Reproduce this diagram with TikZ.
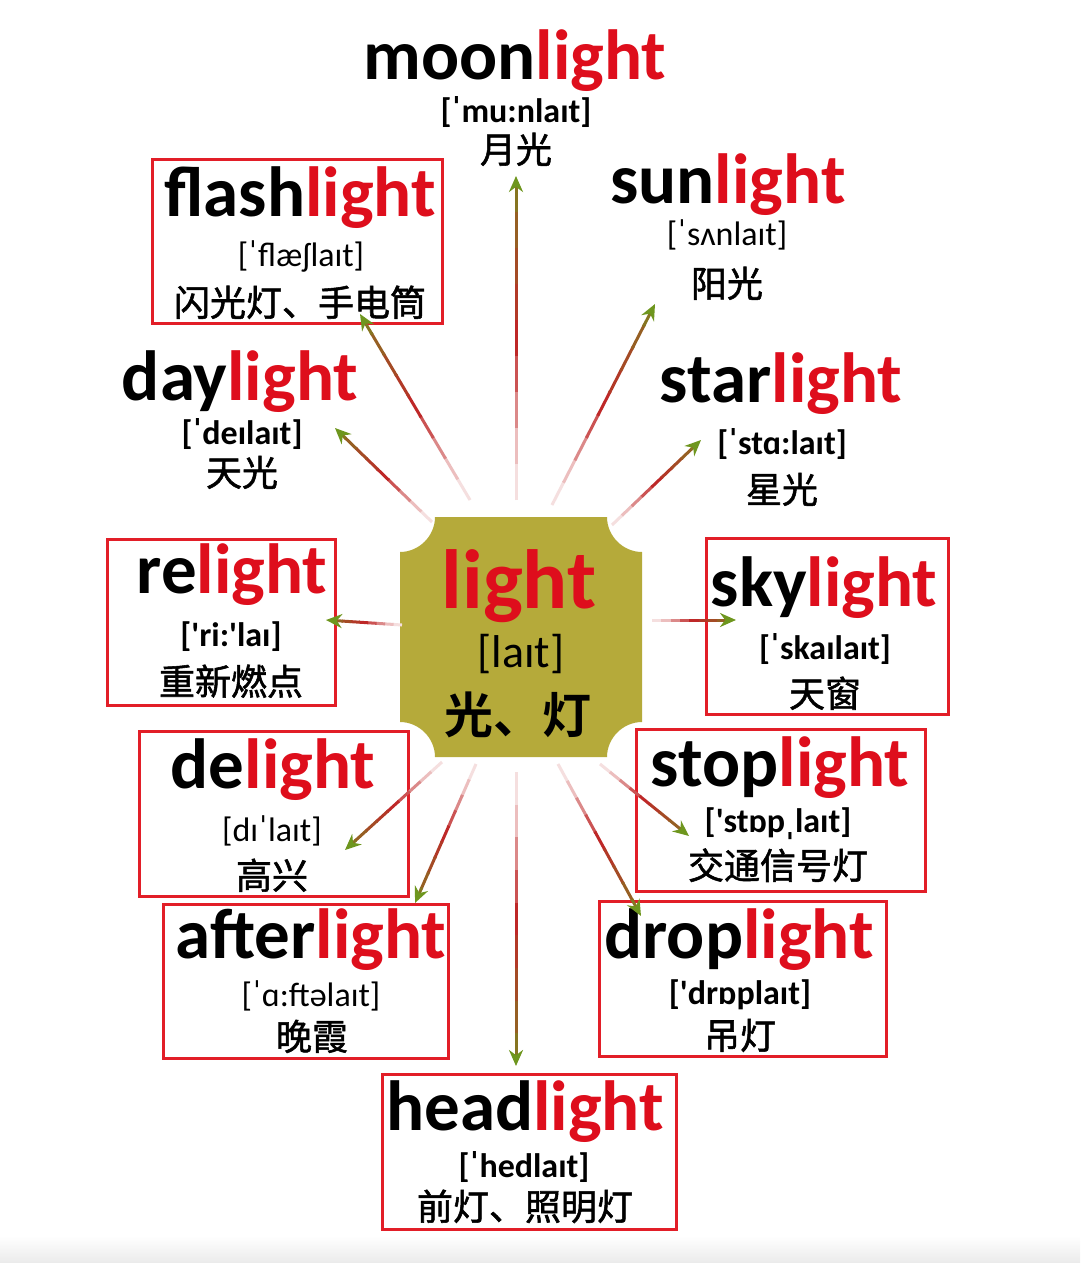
\documentclass[tikz,border=0pt]{standalone}
\usepackage{fontspec}
\setmainfont{Carlito}
\newfontfamily\cjk{Noto Sans CJK SC}[FakeBold=1.5]
\newfontfamily\cjkb{Noto Sans CJK SC Bold}
\usetikzlibrary{arrows.meta,calc}
\definecolor{lred}{RGB}{222,14,28}
\definecolor{boxred}{RGB}{226,30,40}
\definecolor{olivebg}{RGB}{181,170,58}
\definecolor{arrred}{RGB}{190,40,40}
\definecolor{arrgreen}{RGB}{110,150,30}
\colorlet{g0}{arrred!15!white}
\colorlet{g1}{arrred!30!white}
\colorlet{g2}{arrred!55!white}
\colorlet{g3}{arrred!80!white}
\colorlet{g4}{arrred}
\colorlet{g5}{arrred!85!arrgreen}
\colorlet{g6}{arrred!68!arrgreen}
\colorlet{g7}{arrred!50!arrgreen}
\colorlet{g8}{arrred!30!arrgreen}
\newcommand{\ttl}[2]{#1\textcolor{lred}{#2}}
\newcommand{\sq}{\textquotesingle}
\newcommand{\garrow}[2]{%
  \foreach \k/\c in {0/g0,1/g1,2/g2,3/g3,4/g4,5/g5,6/g6,7/g7}{%
    \pgfmathsetmacro\ta{\k/9}\pgfmathsetmacro\tb{(\k+1.1)/9}%
    \draw[conn,\c] ($(#1)!\ta!(#2)$) -- ($(#1)!\tb!(#2)$);}%
  \draw[conn,g8,-{Stealth[length=16pt,width=14pt,color=arrgreen]}] ($(#1)!0.8889!(#2)$) -- (#2);}
\begin{document}
\begin{tikzpicture}[x=1pt,y=-1pt,
  title/.style={anchor=base,inner sep=0,font=\fontsize{71}{71}\selectfont\bfseries},
  phon/.style={anchor=base,inner sep=0,font=\fontsize{34}{34}\selectfont\bfseries},
  phonr/.style={anchor=base,inner sep=0,font=\fontsize{34}{34}\selectfont},
  cn/.style={anchor=base,inner sep=0,font=\fontsize{36}{36}\selectfont\cjk},
  box/.style={draw=boxred,line width=3pt,inner sep=0},
  conn/.style={line width=3pt}]
\useasboundingbox (0,0) rectangle (1080,1263);
\fill[white] (0,0) rectangle (1080,1263);
\shade[top color=white,bottom color=black!8] (0,1236) rectangle (1080,1263);

% centre shape
\fill[olivebg] (435,517) -- (607,517) .. controls (607,536) and (623,552) .. (642,552)
  -- (642,722) .. controls (623,722) and (607,738) .. (607,757)
  -- (435,757) .. controls (435,738) and (419,722) .. (400,722)
  -- (400,552) .. controls (419,552) and (435,536) .. (435,517) -- cycle;
\node[title,font=\fontsize{84}{84}\selectfont\bfseries,text=lred] (ctr) at (519,608) {light};
\node[anchor=base,inner sep=0,font=\fontsize{46}{46}\selectfont] (ctrp) at (521,667) {[laɪt]};
\node[anchor=base,inner sep=0,font=\fontsize{49}{49}\selectfont\cjkb] (ctrc) at (518,733) {光、灯};

% boxes
\node[box,minimum width=290pt,minimum height=164pt] (flashbox) at (297.5,241.5) {};
\node[box,minimum width=228pt,minimum height=166pt] (rebox) at (221.5,622.5) {};
\node[box,minimum width=242pt,minimum height=176pt] (skybox) at (827.5,626.5) {};
\node[box,minimum width=269pt,minimum height=165pt] (debox) at (274,813.5) {};
\node[box,minimum width=289pt,minimum height=162pt] (stopbox) at (781,810) {};
\node[box,minimum width=285pt,minimum height=154pt] (afterbox) at (305.5,981.5) {};
\node[box,minimum width=287pt,minimum height=155pt] (dropbox) at (743,979) {};
\node[box,minimum width=294pt,minimum height=155pt] (headbox) at (529.5,1152) {};

% words
\node[title] (moon) at (515,80) {\ttl{moon}{light}};
\node[phon] (moonp) at (516,122) {[ˈmu:nlaɪt]};
\node[cn] (moonc) at (516,163) {月光};

\node[title] (flash) at (300,216) {\ttl{flash}{light}};
\node[phonr] (flashp) at (301,266) {[ˈflæʃlaɪt]};
\node[cn] (flashc) at (300,316) {闪光灯、手电筒};

\node[title] (sun) at (728,203) {\ttl{sun}{light}};
\node[phonr] (sunp) at (727,245) {[ˈsʌnlaɪt]};
\node[cn] (sunc) at (727,297) {阳光};

\node[title] (day) at (240,400) {\ttl{day}{light}};
\node[phon] (dayp) at (242,444) {[ˈdeɪlaɪt]};
\node[cn] (dayc) at (242,486) {天光};

\node[title] (star) at (781,402) {\ttl{star}{light}};
\node[phon] (starp) at (782,454) {[ˈstɑ:laɪt]};
\node[cn] (starc) at (782,503) {星光};

\node[title] (re) at (232,593) {\ttl{re}{light}};
\node[phon] (rep) at (231,646) {[\sq ri:\sq laɪ]};
\node[cn] (rec) at (231,695) {重新燃点};

\node[title] (sky) at (824,606) {\ttl{sky}{light}};
\node[phon] (skyp) at (825,659) {[ˈskaɪlaɪt]};
\node[cn] (skyc) at (825,707) {天窗};

\node[title] (de) at (273,788) {\ttl{de}{light}};
\node[phonr] (dep) at (272,841) {[dɪˈlaɪt]};
\node[cn] (dec) at (272,889) {高兴};

\node[title] (stop) at (780,786) {\ttl{stop}{light}};
\node[phon] (stopp) at (778,832) {[\sq stɒpˌlaɪt]};
\node[cn] (stopc) at (778,879) {交通信号灯};

\node[title] (after) at (311,958) {\ttl{after}{light}};
\node[phonr] (afterp) at (311,1006) {[ˈɑ:ftəlaɪt]};
\node[cn] (afterc) at (312,1050) {晚霞};

\node[title] (drop) at (739,958) {\ttl{drop}{light}};
\node[phon] (dropp) at (740,1004) {[\sq drɒplaɪt]};
\node[cn] (dropc) at (740,1049) {吊灯};

\node[title] (head) at (525,1130) {\ttl{head}{light}};
\node[phon] (headp) at (524,1177) {[ˈhedlaɪt]};
\node[cn] (headc) at (525,1220) {前灯、照明灯};

% arrows
\coordinate (sMoon) at (516,500);  \coordinate (tMoon) at (516,176);
\coordinate (sFlash) at (470,500); \coordinate (tFlash) at (360,314);
\coordinate (sDay) at (432,522);   \coordinate (tDay) at (335,428);
\coordinate (sSun) at (552,505);   \coordinate (tSun) at (655,304);
\coordinate (sStar) at (612,525);  \coordinate (tStar) at (701,440);
\coordinate (sRe) at (402,625);    \coordinate (tRe) at (326,620);
\coordinate (sSky) at (652,620);   \coordinate (tSky) at (736,620);
\coordinate (sDe) at (442,762);    \coordinate (tDe) at (345,850);
\coordinate (sAfter) at (476,764); \coordinate (tAfter) at (415,903);
\coordinate (sHead) at (516,772);  \coordinate (tHead) at (516,1066);
\coordinate (sDrop) at (558,764);  \coordinate (tDrop) at (641,916);
\coordinate (sStop) at (600,764);  \coordinate (tStop) at (689,836);
\garrow{sMoon}{tMoon}
\garrow{sFlash}{tFlash}
\garrow{sDay}{tDay}
\garrow{sSun}{tSun}
\garrow{sStar}{tStar}
\garrow{sRe}{tRe}
\garrow{sSky}{tSky}
\garrow{sDe}{tDe}
\garrow{sAfter}{tAfter}
\garrow{sHead}{tHead}
\garrow{sDrop}{tDrop}
\garrow{sStop}{tStop}
\end{tikzpicture}
\end{document}
